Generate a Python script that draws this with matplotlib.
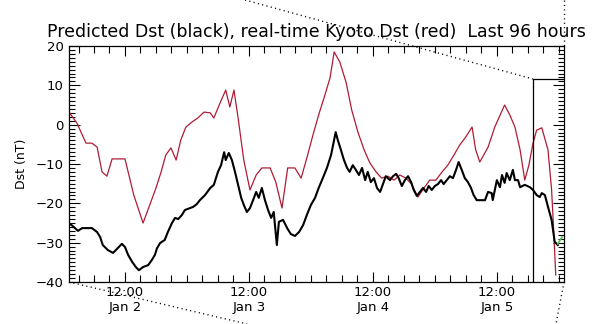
import matplotlib

matplotlib.use("Agg")
import matplotlib.pyplot as plt
from matplotlib.lines import Line2D
from matplotlib.ticker import FixedLocator, MultipleLocator

# hours since Jan 2 00:00
RED_H = [1.16, 2.7, 4.45, 5.6, 6.6, 7.55, 8.5, 9.5, 11.0, 12.0, 13.7, 15.5, 16.8, 18.0,
         19.0, 19.9, 20.9, 21.9, 22.8, 23.8, 25.0, 26.1, 27.3, 28.5, 29.2, 30.4, 31.5,
         32.3, 33.1, 33.9, 35.0, 36.2, 37.4, 38.5, 40.1, 41.2, 42.4, 43.5, 44.9, 46.1,
         47.2, 48.4, 49.5, 50.7, 51.7, 52.5, 53.6, 54.8, 55.9, 57.1, 58.3, 59.4, 60.6,
         61.7, 62.9, 64.1, 65.2, 66.4, 67.5, 68.7, 69.9, 71.0, 72.2, 73.4, 74.5, 75.7,
         76.8, 78.0, 79.2, 79.9, 80.7, 82.3, 83.6, 85.5, 86.5, 87.5, 88.5, 89.4, 90.2,
         91.0, 91.7, 92.7, 93.9, 94.6, 95.0, 95.4]
RED_DST = [3.2, 0.4, -4.7, -4.7, -5.7, -12.0, -13.1, -8.7, -8.7, -8.7, -17.9, -25.0, -20.4,
           -16.1, -12.0, -7.7, -5.9, -9.0, -3.9, -0.6, 0.7, 1.7, 3.2, 3.0, 1.7, 5.5, 8.8,
           4.5, 8.8, 1.7, -9.0, -16.6, -12.8, -11.0, -11.0, -14.6, -21.2, -11.0, -11.0,
           -13.6, -8.5, -2.6, 2.5, 7.5, 11.9, 18.5, 15.9, 10.8, 3.7, -1.9, -6.4, -9.7,
           -12.0, -13.6, -13.1, -14.1, -12.8, -13.6, -15.1, -18.4, -16.1, -14.1, -14.1,
           -12.0, -10.3, -7.7, -5.2, -3.1, -0.6, -6.4, -9.5, -5.7, -0.6, 5.0, 2.5, -0.6,
           -6.4, -14.1, -10.3, -4.7, -1.4, -0.8, -6.4, -16.6, -26.8, -38.2]

PRED_H = [1.16, 1.9, 2.9, 3.7, 4.6, 5.6, 6.6, 7.2, 7.7, 8.7, 9.7, 10.6, 11.4, 12.0, 12.6,
          13.4, 14.1, 14.7, 15.5, 16.5, 17.2, 17.8, 18.2, 18.8, 19.7, 20.3, 21.1, 21.7,
          22.3, 23.0, 23.6, 24.6, 25.2, 25.9, 26.5, 27.5, 28.5, 29.2, 30.0, 30.6, 31.2,
          31.5, 32.1, 32.7, 33.3, 33.9, 34.5, 35.0, 35.6, 36.2, 36.8, 37.4, 37.9, 38.5,
          39.1, 39.7, 40.3, 40.8, 41.4, 41.8, 42.6, 43.4, 44.1, 44.9, 45.7, 46.5, 47.2,
          48.0, 48.8, 49.5, 50.3, 51.1, 51.9, 52.5, 52.8, 53.2, 53.8, 54.4, 55.0, 55.5,
          56.1, 56.7, 57.3, 57.9, 58.5, 59.0, 59.6, 60.2, 60.8, 61.4, 61.9, 62.5, 63.3,
          63.9, 64.5, 65.0, 65.6, 66.2, 66.8, 67.4, 67.9, 68.5, 69.1, 69.7, 70.3, 70.8,
          71.4, 72.0, 72.6, 73.2, 73.7, 74.3, 74.9, 75.5, 76.1, 76.6, 77.2, 77.8, 78.4,
          79.0, 79.5, 80.1, 80.7, 81.7, 82.3, 83.0, 83.2, 84.0, 84.6, 85.0, 85.5, 85.9,
          86.5, 87.1, 87.5, 88.1, 88.5, 89.4, 90.4, 91.0, 91.7, 92.3, 92.7, 93.3, 93.9,
          94.6, 95.2, 95.8]
PRED_DST = [-25.0, -25.8, -27.0, -26.3, -26.3, -26.3, -27.3, -28.6, -30.6, -31.9, -32.6,
            -31.4, -30.3, -31.1, -33.1, -34.9, -36.2, -37.0, -36.2, -35.7, -34.4, -33.1,
            -31.4, -30.1, -29.3, -27.3, -25.0, -23.7, -24.0, -23.0, -21.7, -21.2, -20.9,
            -20.2, -19.2, -17.9, -16.1, -15.3, -12.0, -10.3, -7.0, -9.0, -7.2, -9.0, -12.0,
            -15.3, -18.6, -20.4, -22.2, -21.2, -19.2, -17.1, -18.6, -16.1, -19.2, -21.7,
            -23.7, -22.2, -30.6, -24.7, -24.2, -26.3, -27.8, -28.3, -27.3, -25.5, -23.0,
            -20.4, -18.6, -16.1, -13.6, -11.0, -7.7, -3.9, -1.9, -3.9, -6.4, -9.0, -11.0,
            -12.0, -10.3, -11.5, -12.8, -11.0, -14.1, -12.0, -14.6, -13.6, -16.1, -17.1,
            -15.3, -13.1, -14.1, -13.1, -12.5, -13.6, -15.6, -14.1, -13.1, -14.6, -16.6,
            -18.1, -17.1, -16.1, -17.1, -15.6, -16.6, -15.6, -15.1, -14.1, -15.1, -14.1,
            -13.1, -13.6, -11.5, -9.5, -11.5, -13.6, -14.6, -16.1, -17.9, -19.2, -19.2,
            -19.2, -17.1, -17.4, -19.2, -14.1, -15.9, -12.8, -14.8, -12.3, -14.1, -11.5,
            -14.1, -14.1, -15.9, -15.3, -15.9, -16.6, -17.9, -18.4, -17.4, -17.9, -20.9,
            -24.2, -29.8, -30.6]

FORECAST_H = [95.8, 96.6]
FORECAST_DST = [-30.3, -28.6]

X_RANGE = (1.16, 97.0)
Y_RANGE = (-40, 20)
MAJOR_H = [12, 36, 60, 84]
MAJOR_LABELS = ["12:00\nJan 2", "12:00\nJan 3", "12:00\nJan 4", "12:00\nJan 5"]
BOX_H = 91.0
BOX_TOP = 11.6

W, H = 597, 324
fig = plt.figure(figsize=(W / 100, H / 100), dpi=100)
ax = fig.add_axes([69 / W, 1 - 282 / H, (564 - 69) / W, (282 - 46) / H])

ax.plot(RED_H, RED_DST, color="#b01c34", lw=0.9)
ax.plot(PRED_H, PRED_DST, color="black", lw=1.5)
ax.plot(FORECAST_H, FORECAST_DST, color="#4cc24c", lw=1.2)

# current-time box
ax.plot([BOX_H, BOX_H, X_RANGE[1]], [Y_RANGE[0], BOX_TOP, BOX_TOP], color="black", lw=0.9)

ax.set_xlim(*X_RANGE)
ax.set_ylim(*Y_RANGE)
ax.xaxis.set_major_locator(FixedLocator(MAJOR_H))
ax.set_xticklabels(MAJOR_LABELS)
ax.xaxis.set_minor_locator(MultipleLocator(3))
ax.yaxis.set_major_locator(MultipleLocator(10))
ax.yaxis.set_minor_locator(MultipleLocator(1))
ax.set_yticklabels([f"{int(v)}".replace("-", "\u2212") for v in ax.get_yticks()])

ax.tick_params(which="both", direction="in", top=True, right=True, labelsize=9.5,
               width=0.8, color="black")
ax.tick_params(axis="x", which="major", length=7, pad=3)
ax.tick_params(axis="x", which="minor", length=5)
ax.tick_params(axis="y", which="major", length=8, pad=4)
ax.tick_params(axis="y", which="minor", length=4)
for s in ax.spines.values():
    s.set_linewidth(0.9)

ax.set_ylabel("Dst (nT)", fontsize=9, labelpad=5)
fig.text(316.5 / W, 1 - 32 / H,
         "Predicted Dst (black), real-time Kyoto Dst (red)  Last 96 hours",
         ha="center", va="center", fontsize=12.5)

# dotted projection lines of the zoom box
for (x0, y0), (x1, y1) in [((245, 0), (533, 79)), ((563.5, 0), (563.5, 46)),
                           ((69, 282), (247, 324)), ((564, 282), (556, 324))]:
    fig.add_artist(Line2D([x0 / W, x1 / W], [1 - y0 / H, 1 - y1 / H],
                          transform=fig.transFigure, color="black", lw=1.0,
                          linestyle=(0, (0.8, 2.4))))

fig.savefig("out.png", dpi=100)
